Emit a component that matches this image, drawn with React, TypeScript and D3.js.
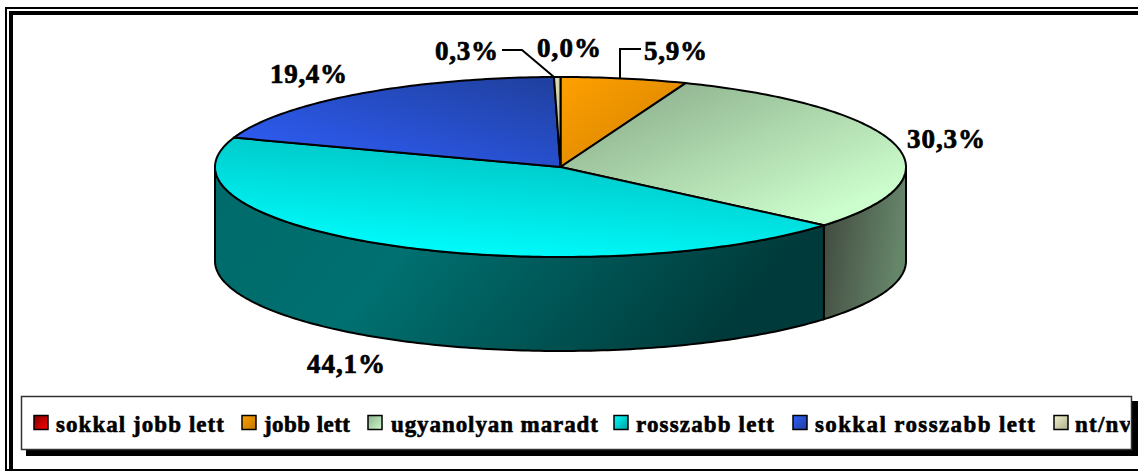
import React from "react";
import * as d3 from "d3";

const categories = ["sokkal jobb lett", "jobb lett", "ugyanolyan maradt", "rosszabb lett", "sokkal rosszabb lett", "nt/nv"];
const values = [0.0, 5.9, 30.3, 44.1, 19.4, 0.3];
const labels = ["0,0%", "5,9%", "30,3%", "44,1%", "19,4%", "0,3%"];
const topFrom = ["#ff0000", "#ffa000", "#85a685", "#00ffff", "#3060ff", "#e8e8c0"];
const topTo = ["#800000", "#d08000", "#ccfdcc", "#00bcbc", "#1f3f9c", "#b0b090"];
const wallFrom = ["#800000", "#805000", "#3c463c", "#006a6a", "#183080", "#707060"];
const wallMid = ["#600000", "#603c00", "#4f604f", "#007070", "#142868", "#585848"];
const wallTo = ["#400000", "#402800", "#66866a", "#003a3a", "#102050", "#404030"];
const labelX = [537, 644, 907, 307, 270, 435];
const labelY = [57, 60, 148, 373, 83, 60];
const labelWidth = [64, 63, 78, 78, 77, 63];
const legendSwatchX = [34, 242, 368, 614, 793, 1054];
const legendTextX = [56, 264, 391, 636, 815, 1075];
const legendTextWidth = [168, 86, 207, 138, 220, 56];
const legendColors = [["#ff0000", "#800000"], ["#ffa000", "#c07800"], ["#8fb08f", "#ccfdcc"], ["#00ffff", "#00a0a0"], ["#3060ff", "#1f3f9c"], ["#f0f0c8", "#b0b090"]];

const W = 1138, H = 471;
const cx = 560.5, cy = 167, rx = 345.5, ry = 90, depth = 94;
const font = "'Liberation Serif','Times New Roman',serif";

const pie = d3.pie<number>().sort(null).startAngle(0).endAngle(2 * Math.PI);
const slices = pie(values);

const ex = (a: number) => cx + rx * Math.sin(a);
const ey = (a: number) => cy - ry * Math.cos(a);
const line = d3.line<[number, number]>();

function samples(a0: number, a1: number): number[] {
  const n = Math.max(2, Math.ceil((a1 - a0) * 60));
  return d3.range(n + 1).map((i) => a0 + ((a1 - a0) * i) / n);
}
function topPath(a0: number, a1: number): string {
  const pts = samples(a0, a1).map((a) => [ex(a), ey(a)] as [number, number]);
  return line([[cx, cy], ...pts])! + "Z";
}
function wallPath(a0: number, a1: number): string | null {
  const lo = Math.max(a0, Math.PI / 2), hi = Math.min(a1, (3 * Math.PI) / 2);
  if (hi <= lo) return null;
  const s = samples(lo, hi);
  const upper = s.map((a) => [ex(a), ey(a)] as [number, number]);
  const lower = s.slice().reverse().map((a) => [ex(a), ey(a) + depth] as [number, number]);
  return line([...upper, ...lower])! + "Z";
}

export default function App() {
  return (
    <svg width={W} height={H} style={{ position: "absolute", left: 0, top: 0, background: "#fff" }}>
      <defs>
        {values.map((_, i) => (
          <linearGradient
            key={i}
            id={`top${i}`}
            x1={i === 4 ? 0 : i === 3 ? 0.3 : 0}
            y1={i === 4 || i === 3 ? 1 : 0}
            x2={i === 3 ? 0.7 : 1}
            y2={i === 4 || i === 3 ? 0 : 1}
          >
            <stop offset="0" stopColor={topFrom[i]} />
            <stop offset={i === 2 ? 0.85 : 1} stopColor={topTo[i]} />
          </linearGradient>
        ))}
        {values.map((_, i) => (
          <linearGradient key={i} id={`wall${i}`} x1="0" y1="0" x2="1" y2="0.25">
            <stop offset="0" stopColor={wallFrom[i]} />
            <stop offset="0.4" stopColor={wallMid[i]} />
            <stop offset="1" stopColor={wallTo[i]} />
          </linearGradient>
        ))}
        {legendColors.map((c, i) => (
          <linearGradient key={i} id={`leg${i}`} x1="0" y1="0" x2="1" y2="1">
            <stop offset="0" stopColor={c[i === 0 ? 1 : 0]} />
            <stop offset="1" stopColor={c[i === 0 ? 0 : 1]} />
          </linearGradient>
        ))}
        <clipPath id="legendClip">
          <rect x={22} y={397} width={1108} height={52} />
        </clipPath>
      </defs>

      {/* double frame */}
      <rect x={6} y={8} width={W + 10} height={462} fill="none" stroke="#000" strokeWidth={2} />
      <rect x={11} y={13} width={W + 10} height={470} fill="none" stroke="#000" strokeWidth={4} />

      {/* pie walls */}
      {slices.map((s, i) => {
        const d = wallPath(s.startAngle, s.endAngle);
        return d ? <path key={i} d={d} fill={`url(#wall${i})`} stroke="#000" strokeWidth={2} /> : null;
      })}
      {/* pie top */}
      {slices.map((s, i) =>
        s.endAngle - s.startAngle > 0 ? (
          <path key={i} d={topPath(s.startAngle, s.endAngle)} fill={`url(#top${i})`} stroke="#000" strokeWidth={2} strokeLinejoin="round" />
        ) : null
      )}

      {/* leader lines */}
      <path d="M502,50H522L554,77" fill="none" stroke="#000" strokeWidth={2} />
      <path d="M620,78V49H641" fill="none" stroke="#000" strokeWidth={2} />

      {/* data labels */}
      {labels.map((t, i) => (
        <text key={i} x={labelX[i]} y={labelY[i]} textLength={labelWidth[i]} fontFamily={font} fontWeight="bold" fontSize={27} fill="#000" stroke="#000" strokeWidth={0.7}>
          {t}
        </text>
      ))}

      {/* legend */}
      <rect x={26} y={401} width={1112} height={55} fill="#000" />
      <rect x={21.5} y={396.5} width={1110} height={53} fill="#fff" stroke="#333" strokeWidth={1.5} />
      {categories.map((c, i) => (
        <g key={c}>
          <rect x={legendSwatchX[i]} y={415.5} width={14} height={14} fill={`url(#leg${i})`} stroke="#000" strokeWidth={1.5} />
        </g>
      ))}
      <g clipPath="url(#legendClip)">
        {categories.map((c, i) => (
          <text key={c} x={legendTextX[i]} y={432} textLength={legendTextWidth[i]} fontFamily={font} fontWeight="bold" fontSize={23} fill="#000" stroke="#000" strokeWidth={0.6}>
            {c}
          </text>
        ))}
      </g>
    </svg>
  );
}
